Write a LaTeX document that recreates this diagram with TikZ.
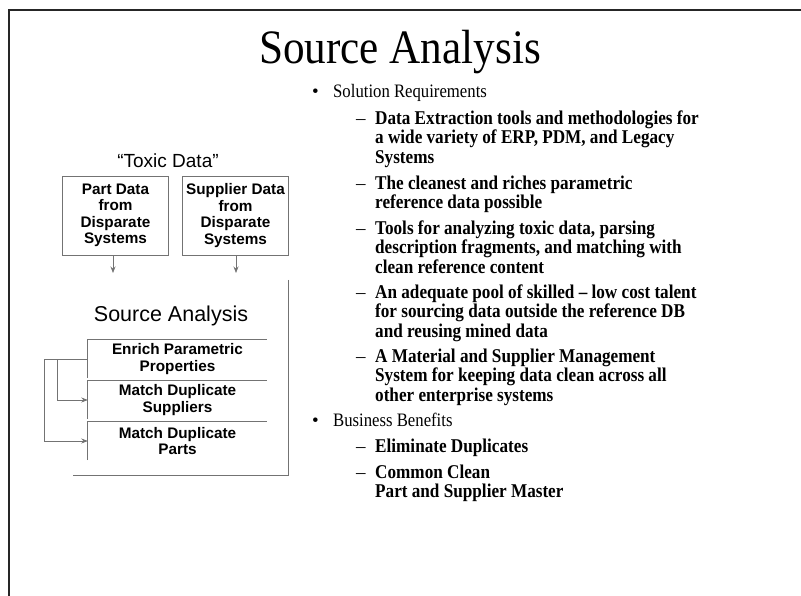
\documentclass[tikz,border=0pt]{standalone}
\usepackage{fontspec}
\setmainfont{Liberation Serif}
\newfontfamily\arial{Liberation Sans}
\newfontfamily\serifnarrow[FakeStretch=0.88,Ligatures=TeX]{Liberation Serif}
\newfontfamily\titlefont[FakeStretch=0.9]{Liberation Serif}
\usetikzlibrary{arrows.meta}
\begin{document}
\begin{tikzpicture}[x=1pt,y=-1pt,
  frame/.style={line width=1.8pt, black!85},
  diag/.style={draw=black!55, line width=0.7pt},
  conn/.style={diag, -{Stealth[length=6.5pt,width=5pt]}},
  srcbox/.style={diag, minimum width=106, minimum height=79, inner sep=0pt,
    align=center, font=\arial\bfseries\fontsize{15.3}{16.5}\selectfont},
  stage/.style={minimum width=179, minimum height=38, inner sep=0pt,
    align=center, font=\arial\bfseries\fontsize{15.3}{16.5}\selectfont},
  head/.style={anchor=base west, inner sep=0pt, font=\serifnarrow\fontsize{19}{19}\selectfont},
  % multi-line items are anchored at the baseline of their last line
  item/.style={anchor=base west, inner sep=0pt, align=left,
    font=\serifnarrow\bfseries\fontsize{19.5}{19.3}\selectfont},
  lead/.style={anchor=base west, inner sep=0pt, font=\fontsize{19}{19}\selectfont}
]
\useasboundingbox (0,0) rectangle (801,596);

% slide frame (top and left edges only)
\draw[frame] (8,10) -- (801,10);
\draw[frame] (9,10) -- (9,596);

% title
\node[font=\titlefont\fontsize{48}{52}\selectfont, inner sep=0pt, anchor=base] (title) at (400,64) {Source Analysis};

% ---------- left: data flow ----------
\node[font=\arial\fontsize{19}{22}\selectfont, inner sep=0pt] (toxic) at (168,161) {“Toxic Data”};
\node[srcbox] (part) at (115.5,215.5) {Part Data\\from\\Disparate\\Systems};
\node[srcbox] (supp) at (235.5,215.5) {Supplier Data\\from\\Disparate\\Systems};

\coordinate (partin) at (113,273);
\coordinate (suppin) at (236,273);
\draw[conn] (part.south -| partin) -- (partin);
\draw[conn] (supp.south -| suppin) -- (suppin);

% source analysis container (right and bottom edges)
\coordinate (sane) at (288,280);
\coordinate (sase) at (288,475);
\coordinate (sasw) at (73,475);
\draw[diag] (sane) -- (sase) -- (sasw);
\node[font=\arial\fontsize{21.5}{24}\selectfont, inner sep=0pt] (satitle) at (171,316) {Source Analysis};

% analysis stages (top and left edges)
\node[stage] (enrich) at (177.5,359) {Enrich Parametric\\Properties};
\node[stage] (msupp) at (177.5,400) {Match Duplicate\\Suppliers};
\node[stage] (mpart) at (177.5,441) {Match Duplicate\\Parts};
\foreach \s in {enrich,msupp,mpart}
  \draw[diag] (\s.south west) -- (\s.north west) -- (\s.north east);

\draw[conn] (enrich.west) -- ([xshift=-43pt]enrich.west) |- (mpart.west);
\draw[conn] ([xshift=-30pt]enrich.west) |- (msupp.west);

% ---------- right: requirements and benefits ----------
\node[lead] (b1) at (312,98) {\textbullet};
\node[head] (solreq) at (333,98) {Solution Requirements};

\node[lead] (d1) at (356,124.5) {–};
\node[item] (i1) at (375,163.1) {Data Extraction tools and methodologies for\\a wide variety of ERP, PDM, and Legacy\\Systems};
\node[lead] (d2) at (356,189.5) {–};
\node[item] (i2) at (375,208.8) {The cleanest and riches parametric\\reference data possible};
\node[lead] (d3) at (356,234.5) {–};
\node[item] (i3) at (375,273.1) {Tools for analyzing toxic data, parsing\\description fragments, and matching with\\clean reference content};
\node[lead] (d4) at (356,298.5) {–};
\node[item] (i4) at (375,337.1) {An adequate pool of skilled – low cost talent\\for sourcing data outside the reference DB\\and reusing mined data};
\node[lead] (d5) at (356,362.5) {–};
\node[item] (i5) at (375,401.1) {A Material and Supplier Management\\System for keeping data clean across all\\other enterprise systems};

\node[lead] (b2) at (312,426) {\textbullet};
\node[head] (benef) at (333,426) {Business Benefits};
\node[lead] (d6) at (356,452.5) {–};
\node[item] (i6) at (375,452.5) {Eliminate Duplicates};
\node[lead] (d7) at (356,478.5) {–};
\node[item] (i7) at (375,497.8) {Common Clean\\Part and Supplier Master};
\end{tikzpicture}
\end{document}
